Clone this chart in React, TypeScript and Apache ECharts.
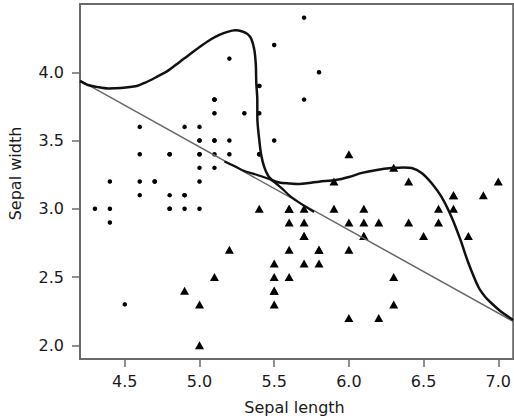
import React, { useEffect, useRef } from "react";
import * as echarts from "echarts";

// Iris setosa: [sepal length, sepal width]
const setosa: number[][] = [
  [5.1, 3.5], [4.9, 3.0], [4.7, 3.2], [4.6, 3.1], [5.0, 3.6], [5.4, 3.9], [4.6, 3.4], [5.0, 3.4],
  [4.4, 2.9], [4.9, 3.1], [5.4, 3.7], [4.8, 3.4], [4.8, 3.0], [4.3, 3.0], [5.8, 4.0], [5.7, 4.4],
  [5.4, 3.9], [5.1, 3.5], [5.7, 3.8], [5.1, 3.8], [5.4, 3.4], [5.1, 3.7], [4.6, 3.6], [5.1, 3.3],
  [4.8, 3.4], [5.0, 3.0], [5.0, 3.4], [5.2, 3.5], [5.2, 3.4], [4.7, 3.2], [4.8, 3.1], [5.4, 3.4],
  [5.2, 4.1], [5.5, 4.2], [4.9, 3.1], [5.0, 3.2], [5.5, 3.5], [4.9, 3.6], [4.4, 3.0], [5.1, 3.4],
  [5.0, 3.5], [4.5, 2.3], [4.4, 3.2], [5.0, 3.5], [5.1, 3.8], [4.8, 3.0], [5.1, 3.8], [4.6, 3.2],
  [5.3, 3.7], [5.0, 3.3],
];

// Iris versicolor: [sepal length, sepal width]
const versicolor: number[][] = [
  [7.0, 3.2], [6.4, 3.2], [6.9, 3.1], [5.5, 2.3], [6.5, 2.8], [5.7, 2.8], [6.3, 3.3], [4.9, 2.4],
  [6.6, 2.9], [5.2, 2.7], [5.0, 2.0], [5.9, 3.0], [6.0, 2.2], [6.1, 2.9], [5.6, 2.9], [6.7, 3.1],
  [5.6, 3.0], [5.8, 2.7], [6.2, 2.2], [5.6, 2.5], [5.9, 3.2], [6.1, 2.8], [6.3, 2.5], [6.1, 2.8],
  [6.4, 2.9], [6.6, 3.0], [6.8, 2.8], [6.7, 3.0], [6.0, 2.9], [5.7, 2.6], [5.5, 2.4], [5.5, 2.4],
  [5.8, 2.7], [6.0, 2.7], [5.4, 3.0], [6.0, 3.4], [6.7, 3.1], [6.3, 2.3], [5.6, 3.0], [5.5, 2.5],
  [5.5, 2.6], [6.1, 3.0], [5.8, 2.6], [5.0, 2.3], [5.6, 2.7], [5.7, 3.0], [5.7, 2.9], [6.2, 2.9],
  [5.1, 2.5], [5.7, 2.8],
];

// Linear decision boundary (end points)
const linearBoundary: number[][] = [
  [4.2, 3.94], [7.1, 2.175],
];

// Non-linear decision boundary, main branch
const curveMain: number[][] = [
  [4.2, 3.937], [4.253, 3.907], [4.313, 3.893], [4.387, 3.882], [4.473, 3.885], [4.58, 3.9],
  [4.633, 3.922], [4.713, 3.966], [4.787, 4.01], [4.867, 4.076], [4.947, 4.142], [5.02, 4.2],
  [5.08, 4.244], [5.133, 4.274], [5.187, 4.296], [5.24, 4.307], [5.287, 4.299], [5.32, 4.281],
  [5.347, 4.244], [5.367, 4.164], [5.377, 4.054], [5.38, 3.922], [5.387, 3.797], [5.387, 3.673],
  [5.4, 3.504], [5.413, 3.394], [5.433, 3.307], [5.46, 3.241], [5.487, 3.211], [5.533, 3.193],
  [5.6, 3.186], [5.667, 3.182], [5.733, 3.189], [5.8, 3.199], [5.913, 3.211], [6.0, 3.233],
  [6.087, 3.263], [6.187, 3.285], [6.287, 3.299], [6.367, 3.303], [6.42, 3.299], [6.487, 3.263],
  [6.553, 3.189], [6.62, 3.087], [6.687, 2.94], [6.747, 2.772], [6.8, 2.603], [6.867, 2.427],
  [6.913, 2.354], [6.953, 2.31], [7.013, 2.252], [7.08, 2.2], [7.1, 2.186],
];

// Non-linear decision boundary, short branch near the linear boundary
const curveBranch: number[][] = [
  [5.167, 3.347], [5.233, 3.314], [5.3, 3.277], [5.387, 3.248], [5.48, 3.211], [5.547, 3.153],
  [5.613, 3.087], [5.68, 3.036], [5.767, 2.977],
];

const xTicks = [4.5, 5.0, 5.5, 6.0, 6.5, 7.0];
const yTicks = [2.0, 2.5, 3.0, 3.5, 4.0];

const xTitle = "Sepal length";
const yTitle = "Sepal width";

const FONT = "DejaVu Sans";

export default function App() {
  const ref = useRef<HTMLDivElement>(null);

  useEffect(() => {
    if (!ref.current) return;
    const chart = echarts.init(ref.current, null, { renderer: "svg" });
    const axisColor = "#6a6a6a";
    const textColor = "#1a1a1a";
    chart.setOption({
      animation: false,
      backgroundColor: "#ffffff",
      grid: {
        left: 80,
        top: 4,
        width: 435,
        height: 355,
        show: true,
        borderColor: axisColor,
        borderWidth: 2,
        backgroundColor: "transparent",
      },
      xAxis: {
        type: "value",
        min: 4.2,
        max: 7.1,
        axisLine: { show: false },
        splitLine: { show: false },
        axisTick: {
          show: true,
          length: 8,
          customValues: xTicks,
          lineStyle: { color: axisColor, width: 1.5 },
        },
        axisLabel: {
          customValues: xTicks,
          margin: 14,
          color: textColor,
          fontSize: 16,
          fontFamily: FONT,
          formatter: (v: number) => v.toFixed(1),
        },
      },
      yAxis: {
        type: "value",
        min: 1.9,
        max: 4.5,
        axisLine: { show: false },
        splitLine: { show: false },
        axisTick: {
          show: true,
          length: 8,
          customValues: yTicks,
          lineStyle: { color: axisColor, width: 1.5 },
        },
        axisLabel: {
          customValues: yTicks,
          margin: 16,
          color: textColor,
          fontSize: 16,
          fontFamily: FONT,
          formatter: (v: number) => v.toFixed(1),
        },
      },
      graphic: [
        {
          type: "text",
          x: 294.5,
          y: 407,
          style: {
            text: xTitle,
            fill: textColor,
            font: `16px "${FONT}"`,
            textAlign: "center",
            textVerticalAlign: "middle",
          },
        },
        {
          type: "text",
          x: 15,
          y: 173.5,
          rotation: Math.PI / 2,
          style: {
            text: yTitle,
            fill: textColor,
            font: `16px "${FONT}"`,
            textAlign: "center",
            textVerticalAlign: "middle",
          },
        },
      ],
      series: [
        {
          type: "scatter",
          data: setosa,
          symbol: "circle",
          symbolSize: 4.5,
          itemStyle: { color: "#000", opacity: 1 },
          silent: true,
        },
        {
          type: "scatter",
          data: versicolor,
          symbol: "triangle",
          symbolSize: [9, 8],
          itemStyle: { color: "#000", opacity: 1 },
          silent: true,
        },
        {
          type: "line",
          data: linearBoundary,
          showSymbol: false,
          lineStyle: { color: "#666", width: 1.5 },
          silent: true,
        },
        {
          type: "line",
          data: curveBranch,
          showSymbol: false,
          smooth: 0.3,
          lineStyle: { color: "#111", width: 2.2 },
          silent: true,
        },
        {
          type: "line",
          data: curveMain,
          showSymbol: false,
          smooth: 0.3,
          lineStyle: { color: "#111", width: 2.5 },
          silent: true,
        },
      ],
    });
    return () => chart.dispose();
  }, []);

  return (
    <div
      ref={ref}
      style={{ position: "fixed", left: 0, top: 0, width: 514, height: 420, background: "#fff" }}
    />
  );
}
